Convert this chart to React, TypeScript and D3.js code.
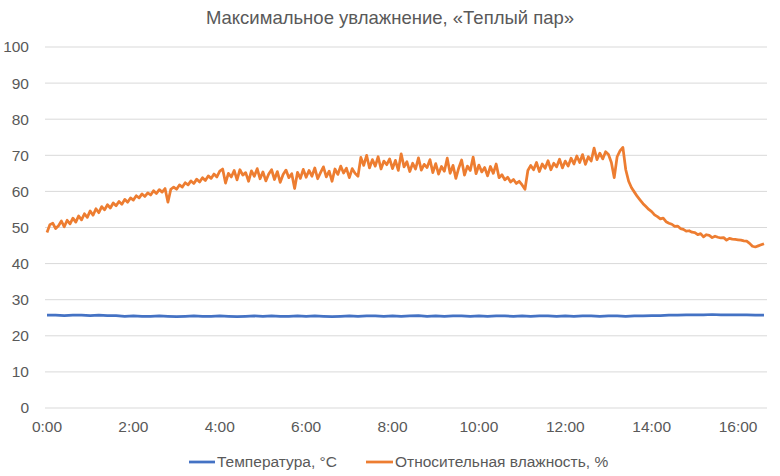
import React from "react";
import * as d3 from "d3";

const title = "Максимальное увлажнение, «Теплый пар»";
const yTicks = [0, 10, 20, 30, 40, 50, 60, 70, 80, 90, 100];
const xTickHours = [0, 2, 4, 6, 8, 10, 12, 14, 16];
const xTickLabels = ["0:00", "2:00", "4:00", "6:00", "8:00", "10:00", "12:00", "14:00", "16:00"];
const seriesNames = ["Температура, °C", "Относительная влажность, %"];

// humidity, one reading every 4 minutes
const humidityStepMin = 4;
const humidity = [
  48.6, 50.8, 51.2, 49.7, 50.5, 51.8, 50.2, 52.0, 51.0, 52.6, 51.5, 53.2, 52.1, 53.8, 52.8,
  54.6, 53.4, 55.2, 54.1, 55.8, 54.9, 56.3, 55.4, 56.8, 56.0, 57.2, 56.4, 57.8, 57.0, 58.2,
  57.6, 58.8, 58.2, 59.3, 58.6, 59.6, 59.0, 60.2, 59.4, 60.5, 59.8, 60.8, 57.0, 60.6, 61.2,
  60.6, 61.8, 61.2, 62.4, 61.8, 62.9, 62.2, 63.4, 62.6, 63.8, 63.0, 64.3, 63.6, 64.8, 64.0,
  65.6, 66.2, 62.3, 65.0, 64.0, 65.8, 63.2, 66.0, 64.5, 65.2, 62.8, 65.7, 64.2, 66.3, 63.5,
  65.4, 62.9, 64.8, 66.0, 63.3, 65.5, 62.5, 64.7, 65.9, 63.8, 64.9, 60.8, 65.3, 63.6, 66.1,
  63.9, 65.8, 64.2, 66.5, 63.5, 65.2, 66.8, 64.0, 65.6, 62.8, 66.2, 64.7, 67.0, 65.1, 66.4,
  63.8, 66.3, 65.0, 64.2, 69.4, 67.2, 70.0, 66.5, 68.8, 67.0, 69.6, 66.2, 68.4, 67.4, 69.0,
  66.3, 68.6, 65.8, 70.4, 66.8, 68.2, 65.5, 67.8, 66.2, 69.3, 65.9, 67.5, 66.6, 68.8, 65.2,
  67.7, 64.8, 66.9, 65.6, 69.2, 65.0, 67.2, 63.6, 66.5, 68.7, 64.5, 67.0, 65.8, 69.5, 64.9,
  67.3, 65.4, 66.6, 64.3, 66.9, 65.0, 67.6, 63.8, 64.6, 63.2, 63.9, 62.6, 63.3, 62.2, 62.8,
  61.8, 60.6, 65.8, 67.2, 66.0, 68.0, 65.5, 67.6, 66.4, 68.5, 66.0, 67.8, 66.8, 68.9, 66.5,
  68.4, 67.0, 69.2, 67.6, 69.8, 68.0, 70.2, 67.5, 69.6, 68.4, 72.0, 68.8, 70.6, 69.0, 71.0,
  70.2, 68.0, 63.8, 69.6, 71.2, 72.2, 66.0, 62.8, 61.0, 59.8, 58.6, 57.6, 56.6, 55.8, 55.0,
  54.4, 53.5, 53.0, 52.4, 52.6, 51.6, 51.2, 50.9, 50.3, 50.4, 49.7, 49.5, 49.0, 49.1, 48.7,
  48.6, 48.0, 48.3, 47.4, 48.0, 47.8, 47.2, 47.6, 47.3, 47.1, 47.2, 46.5, 47.0, 46.8, 46.7,
  46.6, 46.5, 46.3, 46.2, 45.6, 44.8, 44.6, 44.9, 45.2, 45.5,
];

// temperature, one reading every 12 minutes
const temperatureStepMin = 12;
const temperature = [
  25.7, 25.7, 25.6, 25.7, 25.7, 25.6, 25.7, 25.6, 25.6, 25.4,
  25.5, 25.4, 25.4, 25.5, 25.4, 25.3, 25.4, 25.5, 25.4, 25.4,
  25.5, 25.4, 25.3, 25.4, 25.5, 25.4, 25.5, 25.4, 25.4, 25.5,
  25.4, 25.5, 25.4, 25.3, 25.4, 25.5, 25.4, 25.5, 25.5, 25.4,
  25.5, 25.4, 25.5, 25.6, 25.4, 25.5, 25.4, 25.5, 25.5, 25.4,
  25.5, 25.4, 25.5, 25.5, 25.4, 25.5, 25.4, 25.5, 25.5, 25.4,
  25.5, 25.4, 25.5, 25.5, 25.4, 25.5, 25.5, 25.4, 25.5, 25.5,
  25.6, 25.6, 25.7, 25.7, 25.8, 25.8, 25.8, 25.9, 25.8, 25.8,
  25.8, 25.8, 25.7, 25.7,
];

const W = 780;
const H = 476;
const FONT = "'Liberation Sans', Arial, sans-serif";
const TEXT = "#595959";
const GRID = "#D9D9D9";
const C_TEMP = "#4472C4";
const C_HUM = "#ED7D31";

export default function App() {
  const x = d3.scaleLinear().domain([0, 16.67]).range([47, 767]);
  const y = d3.scaleLinear().domain([0, 100]).range([408, 47]);
  const gridX0 = 45;
  const gridX1 = 767;

  const lineGen = d3
    .line<[number, number]>()
    .x((d) => x(d[0]))
    .y((d) => y(d[1]));

  const humPts: [number, number][] = humidity.map((v, i) => [(i * humidityStepMin) / 60, v]);
  const tempPts: [number, number][] = temperature.map((v, i) => [(i * temperatureStepMin) / 60, v]);

  return (
    <svg width={W} height={H} style={{ display: "block", position: "absolute", left: 0, top: 0 }}>
      <rect width={W} height={H} fill="#ffffff" />
      <text x={390} y={24} textAnchor="middle" fontFamily={FONT} fontSize={18.5} fill={TEXT}>
        {title}
      </text>
      {yTicks.map((t) => (
        <g key={t}>
          <line x1={gridX0} x2={gridX1} y1={y(t)} y2={y(t)} stroke={GRID} strokeWidth={1} />
          <text x={29} y={y(t)} dy="0.35em" textAnchor="end" fontFamily={FONT} fontSize={15.5} fill={TEXT}>
            {t}
          </text>
        </g>
      ))}
      {xTickHours.map((h, i) => (
        <text key={h} x={x(h)} y={432} textAnchor="middle" fontFamily={FONT} fontSize={15.5} fill={TEXT}>
          {xTickLabels[i]}
        </text>
      ))}
      <path d={lineGen(tempPts) || ""} fill="none" stroke={C_TEMP} strokeWidth={2.75} strokeLinejoin="round" />
      <path d={lineGen(humPts) || ""} fill="none" stroke={C_HUM} strokeWidth={2.75} strokeLinejoin="round" />
      <g>
        <line x1={189} x2={215} y1={462} y2={462} stroke={C_TEMP} strokeWidth={2.75} />
        <text x={217} y={462} dy="0.35em" fontFamily={FONT} fontSize={15.5} fill={TEXT}>
          {seriesNames[0]}
        </text>
        <line x1={366} x2={393} y1={462} y2={462} stroke={C_HUM} strokeWidth={2.75} />
        <text x={395} y={462} dy="0.35em" fontFamily={FONT} fontSize={15.5} fill={TEXT}>
          {seriesNames[1]}
        </text>
      </g>
    </svg>
  );
}
